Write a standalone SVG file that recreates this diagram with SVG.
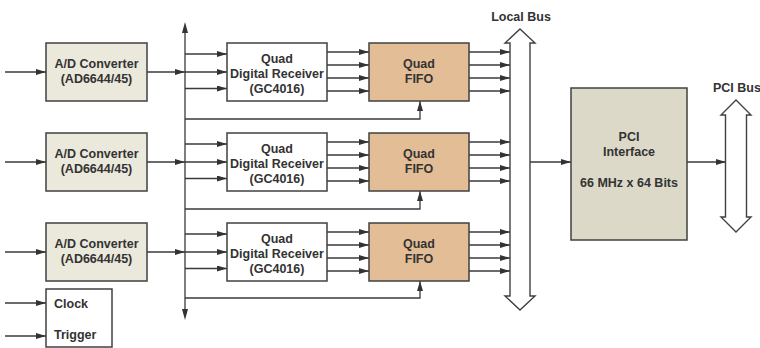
<svg xmlns="http://www.w3.org/2000/svg" width="760" height="348" viewBox="0 0 760 348">
<defs>
<marker id="ah" markerWidth="10" markerHeight="6" refX="10" refY="3" orient="auto" markerUnits="userSpaceOnUse"><path d="M0,0 L10,3 L0,6 Z" fill="#333"/></marker>
</defs>
<style>
.ln{stroke:#3a3a3a;stroke-width:1.3;fill:none}
.ar{stroke:#3a3a3a;stroke-width:1.3;fill:none;marker-end:url(#ah)}
.box{stroke:#404040;stroke-width:1.5}
.ad{fill:#ebe8dc}
.rx{fill:#ffffff}
.ff{fill:#e3bd96}
.pci{fill:#dcd9c9}
.bus{fill:#ffffff;stroke:#404040;stroke-width:1.4}
text{font-family:"Liberation Sans",Arial,sans-serif;font-weight:bold;font-size:12.5px;fill:#333;text-anchor:middle}
.st{text-anchor:start}
</style>
<g id="connectors">
<!-- main vertical bus -->
<path class="ln" d="M185,32 L185,310"/>
<path d="M185,22 L182,33 L188,33 Z" fill="#333"/>
<path d="M185,320 L182,309 L188,309 Z" fill="#333"/>
<!-- group 1 -->
<path class="ar" d="M5,72 H46"/>
<path class="ar" d="M147,72 H185"/>
<path class="ar" d="M185,54 H227"/>
<path class="ar" d="M185,72 H227"/>
<path class="ar" d="M185,88.5 H227"/>
<path class="ar" d="M327,52 H369"/>
<path class="ar" d="M327,65 H369"/>
<path class="ar" d="M327,78 H369"/>
<path class="ar" d="M327,91 H369"/>
<path class="ar" d="M469,52 H510"/>
<path class="ar" d="M469,65 H510"/>
<path class="ar" d="M469,78 H510"/>
<path class="ar" d="M469,91 H510"/>
<path class="ar" d="M185,119 H420 V101"/>
<!-- group 2 -->
<path class="ar" d="M5,162 H46"/>
<path class="ar" d="M147,162 H185"/>
<path class="ar" d="M185,144 H227"/>
<path class="ar" d="M185,162 H227"/>
<path class="ar" d="M185,178.5 H227"/>
<path class="ar" d="M327,142 H369"/>
<path class="ar" d="M327,155 H369"/>
<path class="ar" d="M327,168 H369"/>
<path class="ar" d="M327,181 H369"/>
<path class="ar" d="M469,142 H510"/>
<path class="ar" d="M469,155 H510"/>
<path class="ar" d="M469,168 H510"/>
<path class="ar" d="M469,181 H510"/>
<path class="ar" d="M185,209 H420 V191"/>
<!-- group 3 -->
<path class="ar" d="M5,252 H46"/>
<path class="ar" d="M147,252 H185"/>
<path class="ar" d="M185,234 H227"/>
<path class="ar" d="M185,252 H227"/>
<path class="ar" d="M185,268.5 H227"/>
<path class="ar" d="M327,232 H369"/>
<path class="ar" d="M327,245 H369"/>
<path class="ar" d="M327,258 H369"/>
<path class="ar" d="M327,271 H369"/>
<path class="ar" d="M469,232 H510"/>
<path class="ar" d="M469,245 H510"/>
<path class="ar" d="M469,258 H510"/>
<path class="ar" d="M469,271 H510"/>
<path class="ar" d="M185,298 H420 V281"/>
<!-- clock/trigger -->
<path class="ar" d="M5,303 H46"/>
<path class="ar" d="M5,336 H46"/>
<!-- to PCI -->
<path class="ar" d="M530,162 H571"/>
<path class="ar" d="M687,162 H726"/>
</g>
<g id="local-bus">
<path class="bus" d="M520,29 L535,43 L530,43 L530,296 L535,296 L520,310 L505,296 L510,296 L510,43 L505,43 Z"/>
<text x="521" y="20.5">Local Bus</text>
</g>
<g id="pci-bus">
<path class="bus" d="M736,100 L751,115 L746.5,115 L746.5,217 L751,217 L736,232 L721,217 L725.5,217 L725.5,115 L721,115 Z"/>
<text class="st" x="713" y="92">PCI Bus</text>
</g>
<g id="ad1"><rect class="box ad" x="46" y="43" width="101" height="58"/><text x="96.5" y="68">A/D Converter</text><text x="96.5" y="83">(AD6644/45)</text></g>
<g id="ad2"><rect class="box ad" x="46" y="133" width="101" height="58"/><text x="96.5" y="158">A/D Converter</text><text x="96.5" y="173">(AD6644/45)</text></g>
<g id="ad3"><rect class="box ad" x="46" y="223" width="101" height="58"/><text x="96.5" y="248">A/D Converter</text><text x="96.5" y="263">(AD6644/45)</text></g>
<g id="rx1"><rect class="box rx" x="227" y="43" width="100" height="58"/><text x="277" y="63">Quad</text><text x="277" y="78">Digital Receiver</text><text x="277" y="93">(GC4016)</text></g>
<g id="rx2"><rect class="box rx" x="227" y="133" width="100" height="58"/><text x="277" y="153">Quad</text><text x="277" y="168">Digital Receiver</text><text x="277" y="183">(GC4016)</text></g>
<g id="rx3"><rect class="box rx" x="227" y="223" width="100" height="58"/><text x="277" y="243">Quad</text><text x="277" y="258">Digital Receiver</text><text x="277" y="273">(GC4016)</text></g>
<g id="fifo1"><rect class="box ff" x="369" y="43" width="100" height="58"/><text x="419" y="68">Quad</text><text x="419" y="82.5">FIFO</text></g>
<g id="fifo2"><rect class="box ff" x="369" y="133" width="100" height="58"/><text x="419" y="158">Quad</text><text x="419" y="172.5">FIFO</text></g>
<g id="fifo3"><rect class="box ff" x="369" y="223" width="100" height="58"/><text x="419" y="248">Quad</text><text x="419" y="262.5">FIFO</text></g>
<g id="pci"><rect class="box pci" x="571" y="88" width="116" height="152"/><text x="629" y="141">PCI</text><text x="629" y="156">Interface</text><text x="629" y="187">66 MHz x 64 Bits</text></g>
<g id="clock"><rect class="box rx" x="46" y="289" width="66" height="58"/><text class="st" x="54" y="308">Clock</text><text class="st" x="54" y="339">Trigger</text></g>
</svg>
